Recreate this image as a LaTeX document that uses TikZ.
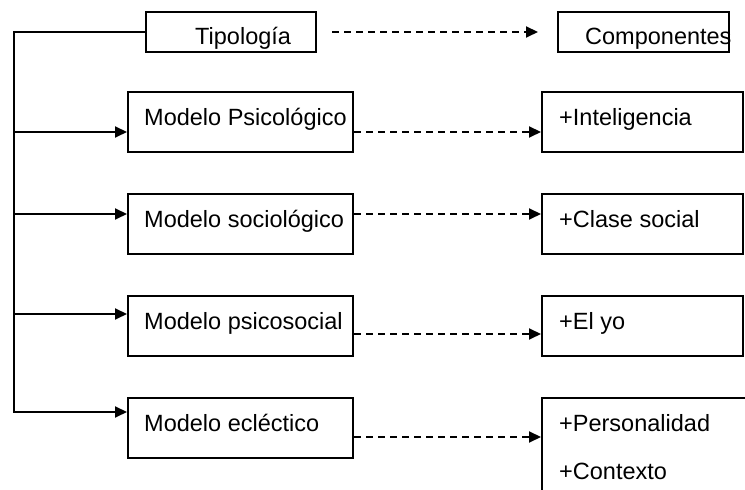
\documentclass[tikz,border=0pt]{standalone}
\usepackage{fontspec}
\setmainfont{Liberation Sans}
\usepackage{tikz}
\usetikzlibrary{positioning,arrows.meta}

\begin{document}
\begin{tikzpicture}[
x=1pt, y=1pt,
node distance=40pt and 187pt,
headbox/.style={rectangle, draw, line width=2pt, inner sep=0pt, minimum width=170pt, minimum height=40pt},
modelbox/.style={rectangle, draw, line width=2pt, inner sep=0pt, minimum width=225pt, minimum height=60pt},
compbox/.style={rectangle, draw, line width=2pt, inner sep=0pt, minimum width=201pt, minimum height=60pt},
boxtext/.style={anchor=base west, inner sep=0pt, font=\fontsize{23.5}{28}\selectfont},
solidarrow/.style={line width=2pt, -{Triangle[length=12pt, width=11pt]}},
dashedarrow/.style={solidarrow, dash pattern=on 7pt off 5pt},
]

\clip (0,0) rectangle (745,490);

% Defining the header boxes
\node[headbox, anchor=north west] (tipologia) at (145,479) {};
\node[headbox, anchor=north west, minimum width=171pt] (componentes) at (557,479) {};

% Defining the model boxes
\node[modelbox, anchor=north west] (psicologico) at (127,399) {};
\node[modelbox] (sociologico) [below=of psicologico] {};
\node[modelbox] (psicosocial) [below=of sociologico] {};
\node[modelbox] (eclectico) [below=of psicosocial] {};

% Defining the component boxes
\node[compbox] (inteligencia) [right=of psicologico] {};
\node[compbox] (clase) [right=of sociologico] {};
\node[compbox] (yo) [right=of psicosocial] {};
\node[compbox, anchor=north west, minimum width=210pt, minimum height=120pt] (personalidad) at ([xshift=187pt]eclectico.north east) {};

% Texts
\node[boxtext] (tipologia-txt) at ([shift={(50,-34)}]tipologia.north west) {Tipología};
\node[boxtext] (componentes-txt) at ([shift={(28,-34)}]componentes.north west) {Componentes};
\node[boxtext] (psicologico-txt) at ([shift={(17,-35)}]psicologico.north west) {Modelo Psicológico};
\node[boxtext] (sociologico-txt) at ([shift={(17,-35)}]sociologico.north west) {Modelo sociológico};
\node[boxtext] (psicosocial-txt) at ([shift={(17,-35)}]psicosocial.north west) {Modelo psicosocial};
\node[boxtext] (eclectico-txt) at ([shift={(17,-35)}]eclectico.north west) {Modelo ecléctico};
\node[boxtext] (inteligencia-txt) at ([shift={(18,-35)}]inteligencia.north west) {+Inteligencia};
\node[boxtext] (clase-txt) at ([shift={(18,-35)}]clase.north west) {+Clase social};
\node[boxtext] (yo-txt) at ([shift={(18,-35)}]yo.north west) {+El yo};
\node[boxtext] (personalidad-txt) at ([shift={(18,-35)}]personalidad.north west) {+Personalidad};
\node[boxtext] (contexto-txt) at ([shift={(18,-83)}]personalidad.north west) {+Contexto};

% Entry and exit points
\coordinate (trunk) at (14,78);
\coordinate (psicologico-in) at ([yshift=-41pt]psicologico.north west);
\coordinate (sociologico-in) at ([yshift=-21pt]sociologico.north west);
\coordinate (psicosocial-in) at ([yshift=-19pt]psicosocial.north west);
\coordinate (psicologico-out) at ([yshift=-41pt]psicologico.north east);
\coordinate (sociologico-out) at ([yshift=-21pt]sociologico.north east);
\coordinate (psicosocial-out) at ([yshift=-39pt]psicosocial.north east);
\coordinate (eclectico-out) at ([yshift=-40pt]eclectico.north east);

% Relationships from the typology
\draw[solidarrow] (tipologia.west) -| (trunk) -- (trunk -| eclectico.west);
\draw[solidarrow] (trunk |- psicologico-in) -- (psicologico-in);
\draw[solidarrow] (trunk |- sociologico-in) -- (sociologico-in);
\draw[solidarrow] (trunk |- psicosocial-in) -- (psicosocial-in);

% Relationships to the components
\draw[dashedarrow, shorten <=15pt, shorten >=19pt] (tipologia.east) -- (componentes.west);
\draw[dashedarrow] (psicologico-out) -- (psicologico-out -| inteligencia.west);
\draw[dashedarrow] (sociologico-out) -- (sociologico-out -| clase.west);
\draw[dashedarrow] (psicosocial-out) -- (psicosocial-out -| yo.west);
\draw[dashedarrow] (eclectico-out) -- (eclectico-out -| personalidad.west);

\end{tikzpicture}
\end{document}
